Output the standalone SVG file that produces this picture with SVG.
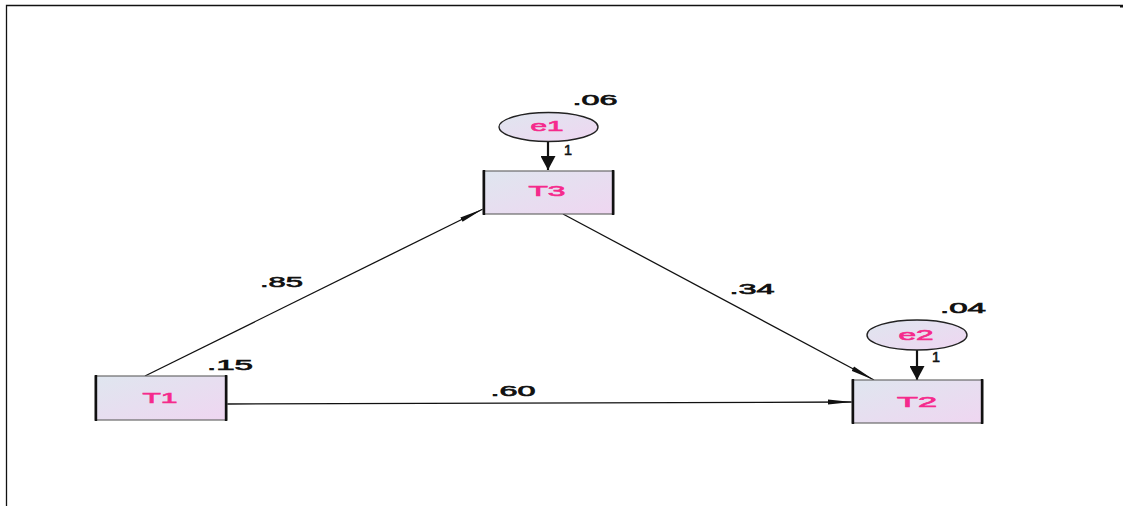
<svg xmlns="http://www.w3.org/2000/svg" width="1133" height="506" viewBox="0 0 1133 506">
  <style>
    .box { fill: url(#nodeFill); stroke: #6a6a6a; stroke-width: 1.2; }
    .side { stroke: #111; stroke-width: 2.4; }
    .oval { fill: url(#nodeFill); stroke: #222; stroke-width: 1.4; }
    .name { font-family: "Liberation Sans", Arial, sans-serif; font-size: 14px; fill: #f52a8c; stroke: #f52a8c; stroke-width: 0.6; }
    .val { font-family: "Liberation Sans", Arial, sans-serif; font-size: 14px; fill: #111; stroke: #111; stroke-width: 0.6; }
    .one { font-size: 15px; }
    .path { stroke: #111; stroke-width: 1.3; fill: none; }
    .err { stroke: #111; stroke-width: 2.2; fill: none; }
  </style>
  <defs>
    <linearGradient id="nodeFill" x1="0" y1="0" x2="1" y2="1">
      <stop offset="0" stop-color="#dfe6ef"/>
      <stop offset="1" stop-color="#efd6f1"/>
    </linearGradient>
    <marker id="thin" viewBox="0 0 24 6" refX="24" refY="3" markerWidth="24" markerHeight="6" markerUnits="userSpaceOnUse" orient="auto">
      <path d="M0,0.5 L24,3 L0,5.5 Z" fill="#111"/>
    </marker>
    <marker id="bold" viewBox="0 0 14 15" refX="14" refY="7.5" markerWidth="14" markerHeight="15" markerUnits="userSpaceOnUse" orient="auto">
      <path d="M0,0 L14,7.5 L0,15 Z" fill="#111"/>
    </marker>
  </defs>

  <!-- page frame -->
  <path d="M6.5,506 V5.5 H1123" stroke="#111" stroke-width="1.3" fill="none"/>
  <path d="M1120,6.5 H1123" stroke="#111" stroke-width="2" fill="none"/>

  <!-- paths between variables -->
  <g id="connectors">
    <line class="path" x1="145" y1="376" x2="483" y2="209" marker-end="url(#thin)"/>
    <line class="path" x1="563" y1="214" x2="874" y2="380" marker-end="url(#thin)"/>
    <line class="path" x1="227" y1="404" x2="852" y2="402" marker-end="url(#thin)"/>
    <line class="err" x1="548" y1="140" x2="548" y2="170" marker-end="url(#bold)"/>
    <line class="err" x1="917" y1="350" x2="917" y2="380" marker-end="url(#bold)"/>
    <text class="val" x="281.5" y="287" textLength="43" lengthAdjust="spacingAndGlyphs" text-anchor="middle">.85</text>
    <text class="val" x="752" y="294" textLength="45" lengthAdjust="spacingAndGlyphs" text-anchor="middle">.34</text>
    <text class="val" x="513" y="396" textLength="45" lengthAdjust="spacingAndGlyphs" text-anchor="middle">.60</text>
    <text class="val one" x="568" y="155" textLength="8" lengthAdjust="spacingAndGlyphs" text-anchor="middle">1</text>
    <text class="val one" x="936" y="362" textLength="8" lengthAdjust="spacingAndGlyphs" text-anchor="middle">1</text>
  </g>

  <g id="e1">
    <ellipse class="oval" cx="548.5" cy="127" rx="49.5" ry="14.5"/>
    <text class="name" x="547" y="131" textLength="33" lengthAdjust="spacingAndGlyphs" text-anchor="middle">e1</text>
    <text class="val" x="595" y="105" textLength="45" lengthAdjust="spacingAndGlyphs" text-anchor="middle">.06</text>
  </g>

  <g id="T3">
    <rect class="box" x="483" y="171" width="131" height="43"/>
    <line class="side" x1="484" y1="170" x2="484" y2="215"/>
    <line class="side" x1="613" y1="170" x2="613" y2="215"/>
    <text class="name" x="547" y="196" textLength="37" lengthAdjust="spacingAndGlyphs" text-anchor="middle">T3</text>
  </g>

  <g id="e2">
    <ellipse class="oval" cx="917" cy="335" rx="50" ry="15"/>
    <text class="name" x="916" y="340" textLength="35" lengthAdjust="spacingAndGlyphs" text-anchor="middle">e2</text>
    <text class="val" x="963" y="313" textLength="46" lengthAdjust="spacingAndGlyphs" text-anchor="middle">.04</text>
  </g>

  <g id="T2">
    <rect class="box" x="852" y="380" width="131" height="43"/>
    <line class="side" x1="853" y1="379" x2="853" y2="424"/>
    <line class="side" x1="982" y1="379" x2="982" y2="424"/>
    <text class="name" x="917" y="407" textLength="40" lengthAdjust="spacingAndGlyphs" text-anchor="middle">T2</text>
  </g>

  <g id="T1">
    <rect class="box" x="95" y="376" width="132" height="44"/>
    <line class="side" x1="96" y1="375" x2="96" y2="421"/>
    <line class="side" x1="226" y1="375" x2="226" y2="421"/>
    <text class="name" x="160" y="403" textLength="35" lengthAdjust="spacingAndGlyphs" text-anchor="middle">T1</text>
    <text class="val" x="230" y="370" textLength="46" lengthAdjust="spacingAndGlyphs" text-anchor="middle">.15</text>
  </g>
</svg>
